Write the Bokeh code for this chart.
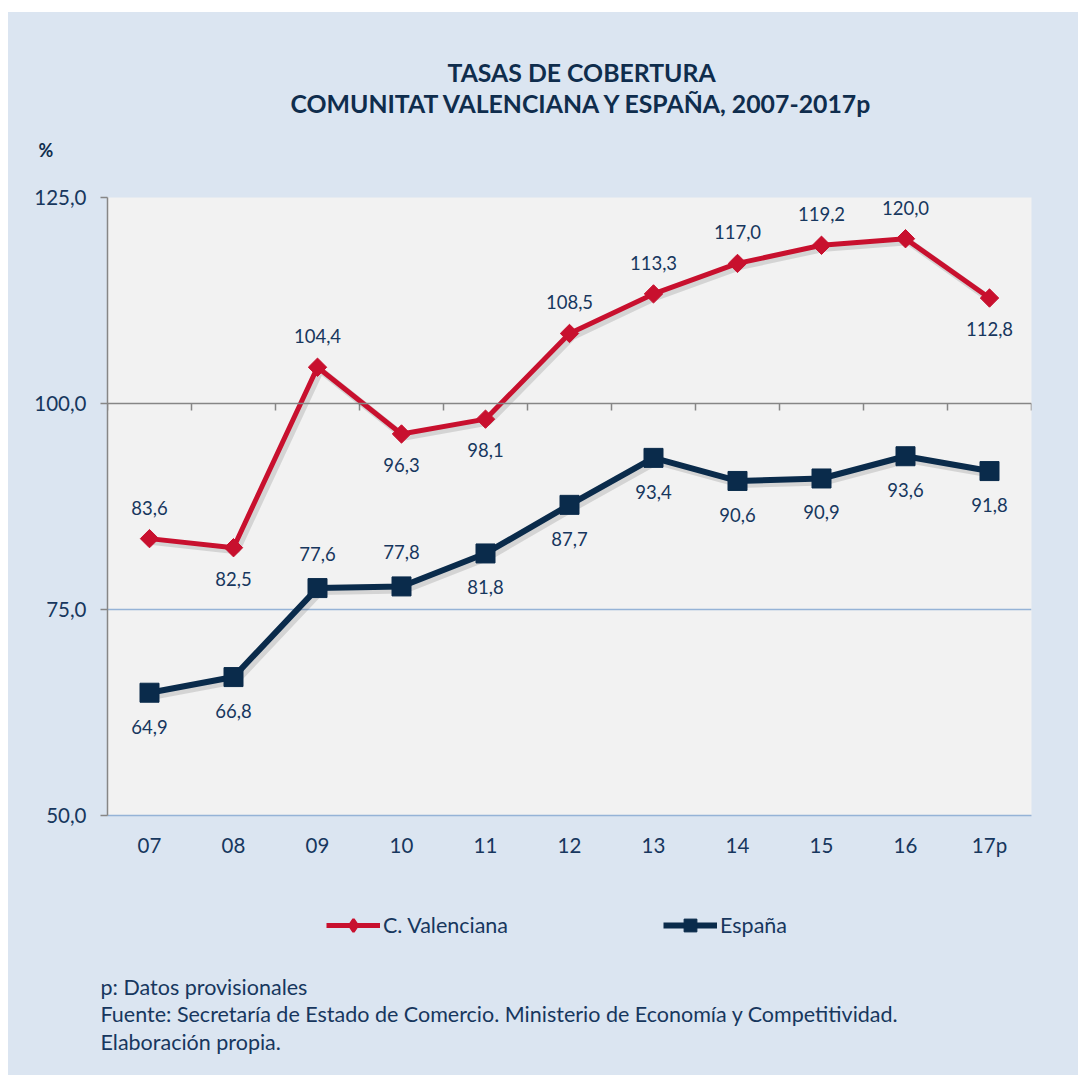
from bokeh.plotting import figure
from bokeh.models import (Range1d, FactorRange, FixedTicker, Span, Legend, Title,
                          LegendItem, ColumnDataSource, Spacer, CustomJSTickFormatter)
from bokeh.layouts import column, row
from bokeh.transform import dodge
from bokeh.embed import file_html
from bokeh.resources import INLINE
from bokeh.core.properties import value
import math

# ---------------- data ----------------
years = ["07", "08", "09", "10", "11", "12", "13", "14", "15", "16", "17p"]
cv_values = [83.6, 82.5, 104.4, 96.3, 98.1, 108.5, 113.3, 117.0, 119.2, 120.0, 112.8]
es_values = [64.9, 66.8, 77.6, 77.8, 81.8, 87.7, 93.4, 90.6, 90.9, 93.6, 91.8]
cv_label_side = ["above", "below", "above", "below", "below", "above", "above", "above", "above", "above", "below"]
es_label_side = ["below", "below", "above", "above", "below", "below", "below", "below", "below", "below", "below"]
y_ticks = [50, 75, 100, 125]
series_names = ["C. Valenciana", "España"]
title_lines = ["TASAS DE COBERTURA", "COMUNITAT VALENCIANA Y ESPAÑA, 2007-2017p"]
notes = ["p: Datos provisionales",
         "Fuente: Secretaría de Estado de Comercio. Ministerio de Economía y Competitividad.",
         "Elaboración propia."]

# ---------------- style ----------------
FONT = "Lato"
TXT = "#17375e"
TITLE_C = "#0f2d4d"
RED = "#c8102e"
NAVY = "#0a2b4b"
BG = "#dbe5f1"
PLOT_BG = "#f2f2f2"
GRID_BLUE = "#95b3d7"
GREY = "#868686"

PAGE_X0, PAGE_Y0 = 8, 12
FIG_W = 1070
FRAME_L, FRAME_T = 107, 197
CAT_W = 84
FRAME_W = CAT_W * len(years)
FRAME_H = 618
MAIN_END = 875            # page y where the main figure ends
PAGE_END = 1075           # page y where the blue panel ends
YMIN, YMAX = 50, 125
PX_PER_UNIT = FRAME_H / (YMAX - YMIN)


def fmt(v):
    return f"{v:.1f}".replace(".", ",")


main_h = MAIN_END - PAGE_Y0
p = figure(width=FIG_W, height=main_h, title=None,
           x_range=FactorRange(factors=years, range_padding=0),
           y_range=Range1d(YMIN, YMAX),
           output_backend="svg", toolbar_location=None,
           min_border_left=FRAME_L - PAGE_X0,
           min_border_top=FRAME_T - PAGE_Y0,
           min_border_right=FIG_W - (FRAME_L - PAGE_X0) - FRAME_W,
           min_border_bottom=main_h - (FRAME_T - PAGE_Y0) - FRAME_H)
p.background_fill_color = PLOT_BG
p.border_fill_color = BG
p.outline_line_color = None

p.xgrid.grid_line_color = None
p.ygrid.ticker = FixedTicker(ticks=[75, 125])
p.ygrid.grid_line_color = GRID_BLUE
p.ygrid.grid_line_width = 1.4

p.yaxis.ticker = FixedTicker(ticks=y_ticks)
p.yaxis.formatter = CustomJSTickFormatter(code="return tick.toFixed(1).replace('.', ',');")
p.yaxis.axis_line_color = GREY
p.yaxis.axis_line_width = 1.5
p.yaxis.major_tick_line_color = GREY
p.yaxis.major_tick_line_width = 1.5
p.yaxis.major_tick_out = 7
p.yaxis.major_tick_in = 0
p.yaxis.minor_tick_line_color = None
p.yaxis.major_label_standoff = 14
p.yaxis.major_label_text_font = FONT
p.yaxis.major_label_text_font_size = "20.5px"
p.yaxis.major_label_text_color = TXT

p.xaxis.axis_line_color = GRID_BLUE
p.xaxis.axis_line_width = 1.5
p.xaxis.major_tick_line_color = None
p.xaxis.minor_tick_line_color = None
p.xaxis.major_label_standoff = 11
p.xaxis.major_label_text_font = FONT
p.xaxis.major_label_text_font_size = "20.5px"
p.xaxis.major_label_text_color = TXT

# category axis crossing at 100
p.add_layout(Span(location=100, dimension="width", line_color=GREY, line_width=1.5))
bounds = list(range(0, len(years) + 1))
p.segment(x0=bounds, y0=[100] * len(bounds), x1=bounds,
          y1=[100 - 7 / PX_PER_UNIT] * len(bounds), line_color=GREY, line_width=1.5)

src = ColumnDataSource(dict(
    year=years, cv=cv_values, es=es_values,
    cv_lab=[fmt(v) for v in cv_values], es_lab=[fmt(v) for v in es_values],
    cv_off=[-31 if s == "above" else 31 for s in cv_label_side],
    es_off=[-34 if s == "above" else 34 for s in es_label_side],
))

# soft shadows
sx = dodge("year", 3 / CAT_W, range=p.x_range)
p.line(x=sx, y=dodge("cv", -3 / PX_PER_UNIT), source=src, line_color="black",
       line_alpha=0.12, line_width=7)
p.line(x=sx, y=dodge("es", -3 / PX_PER_UNIT), source=src, line_color="black",
       line_alpha=0.12, line_width=8)

p.line(x="year", y="cv", source=src, line_color=RED, line_width=5)
p.scatter(x="year", y="cv", source=src, marker="square", angle=math.pi / 4,
          size=13, fill_color=RED, line_color=RED)
p.line(x="year", y="es", source=src, line_color=NAVY, line_width=6)
p.scatter(x="year", y="es", source=src, marker="square", size=19,
          fill_color=NAVY, line_color=NAVY)

p.text(x="year", y="cv", text="cv_lab", y_offset="cv_off", source=src,
       text_align="center", text_baseline="middle", text_font=value(FONT),
       text_font_size="18.5px", text_color=TXT)
p.text(x="year", y="es", text="es_lab", y_offset="es_off", source=src,
       text_align="center", text_baseline="middle", text_font=value(FONT),
       text_font_size="18.5px", text_color=TXT)

# ---------------- titles (above panel, stacked outward from the frame) ----------------
p.add_layout(Title(text="%", align="left", offset=38 - FRAME_L, standoff=69.4,
                   vertical_align="top",
                   text_font=FONT, text_font_style="bold", text_font_size="18px",
                   text_color=TITLE_C), "above")
p.add_layout(Title(text=title_lines[1], align="left", offset=183, standoff=-31,
                   vertical_align="top",
                   text_font=FONT, text_font_style="bold", text_font_size="24.8px",
                   text_color=TITLE_C), "above")
p.add_layout(Title(text=title_lines[0], align="left", offset=340, standoff=34.6,
                   text_font=FONT, text_font_style="bold", text_font_size="24.8px",
                   text_color=TITLE_C), "above")

# ---------------- bottom strip: legend + notes ----------------
STRIP_FRAME_B = 966
strip_h = PAGE_END - MAIN_END
bot = figure(width=FIG_W, height=strip_h, x_range=Range1d(0, len(years)),
             y_range=Range1d(YMIN, YMAX), output_backend="svg", toolbar_location=None,
             min_border_left=0, min_border_right=0, min_border_top=0,
             min_border_bottom=PAGE_END - STRIP_FRAME_B)
bot.axis.visible = False
bot.grid.visible = False
bot.outline_line_color = None
bot.background_fill_color = None
bot.border_fill_color = None

# legend proxies (same series, hidden in this strip; only their legend glyphs show)
bsrc = ColumnDataSource(dict(i=list(range(len(years))), cv=cv_values, es=es_values))
l_cv = bot.line(x="i", y="cv", source=bsrc, line_color=RED, line_width=5, visible=False)
m_cv = bot.scatter(x="i", y="cv", source=bsrc, marker="diamond", size=13, line_width=2.5,
                   fill_color=RED, line_color=RED, visible=False)
l_es = bot.line(x="i", y="es", source=bsrc, line_color=NAVY, line_width=6, visible=False)
m_es = bot.scatter(x="i", y="es", source=bsrc, marker="square", size=14,
                   fill_color=NAVY, line_color=NAVY, visible=False)

legend = Legend(items=[LegendItem(label=series_names[0], renderers=[l_cv, m_cv]),
                       LegendItem(label=series_names[1], renderers=[l_es, m_es])],
                orientation="horizontal", location=(326 - FRAME_L, STRIP_FRAME_B - 941),
                glyph_width=54, glyph_height=32, label_height=32, label_width=0,
                label_standoff=3, spacing=155, padding=0, margin=0,
                border_line_color=None, background_fill_alpha=0,
                label_text_font=FONT, label_text_font_size="21.5px", label_text_color=TXT)
bot.add_layout(legend)

for line, so in zip(notes, [14.2, -15.8, 16.2]):
    bot.add_layout(Title(text=line, align="left", offset=100 - FRAME_L, standoff=so,
                         vertical_align="top", text_font=FONT, text_font_style="normal",
                         text_font_size="21.5px", text_color=TXT), "below")

panel = column(p, bot, spacing=0, styles={"background-color": BG})
layout = column(Spacer(width=FIG_W + PAGE_X0, height=PAGE_Y0),
                row(Spacer(width=PAGE_X0, height=10), panel, spacing=0),
                spacing=0)
open("out.html", "w").write(file_html(layout, INLINE))
